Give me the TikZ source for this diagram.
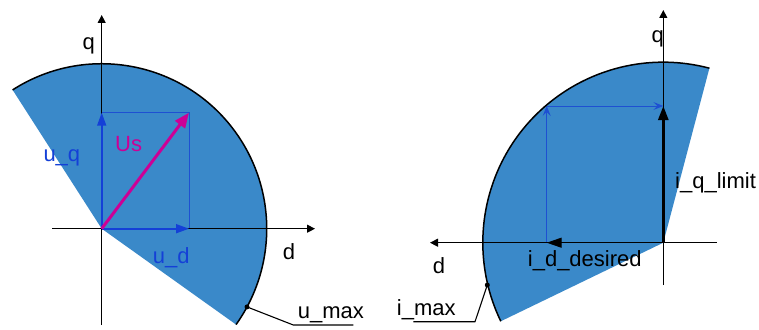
\documentclass[tikz,border=0pt]{standalone}
\usepackage{fontspec}
\setmainfont{Liberation Sans}
\usetikzlibrary{arrows.meta}
\definecolor{sector}{RGB}{58,137,201}
\definecolor{vblue}{RGB}{20,64,215}
\definecolor{rblue}{RGB}{30,80,210}
\definecolor{vmag}{RGB}{204,0,150}
\tikzset{
  lbl/.style={inner sep=0pt, anchor=base west, font=\fontsize{22}{25}\selectfont},
  axis/.style={black, line width=1.2pt, -{Triangle[length=8pt,width=8pt]}},
  rim/.style={black, line width=1.5pt},
  thinblue/.style={rblue, line width=0.6pt},
  comp/.style={vblue, line width=1.6pt, -{Triangle[length=13pt,width=9pt]}},
  leader/.style={black, line width=1.1pt},
  dot/.style={circle, fill=black, inner sep=0pt, minimum size=5pt},
}
\begin{document}
\begin{tikzpicture}[x=1pt,y=-1pt]
\useasboundingbox (0,0) rectangle (759,329);
% ---------- left diagram ----------
\coordinate (O1) at (101.7,228.7);
\coordinate (L1) at (12.6,89.9);
\coordinate (B1) at (236.0,324.5);
\coordinate (Q1) at (101.7,112.7);
\coordinate (D1) at (189,228.7);
\coordinate (U1) at (189,112.7);
\fill[sector] (O1) -- (L1) arc[start angle=-122.7, end angle=35.5, radius=165] -- cycle;
\draw[thinblue] (Q1) -- (U1) -- (D1);
\coordinate (qa1s) at (101.7,325);
\coordinate (qa1e) at (101.7,15);
\coordinate (da1s) at (52,228.7);
\coordinate (da1e) at (315,228.7);
\draw[axis] (qa1s) -- (qa1e);
\draw[axis] (da1s) -- (da1e);
\draw[comp] (O1) -- (Q1);
\draw[comp] (O1) -- (D1);
\draw[vmag, line width=3pt, -{Triangle[length=15pt,width=12pt]}] (O1) -- (U1);
\draw[rim] (L1) arc[start angle=-122.7, end angle=35.5, radius=165];
\node[dot] (m1) at (247,306.9) {};
\coordinate (k1) at (293.3,325);
\coordinate (e1) at (353.3,325);
\draw[leader] (m1.center) -- (k1) -- (e1);
\node[lbl] (tq1) at (82.5,49.5) {q};
\node[lbl, text=vmag] (tus) at (115,151.7) {Us};
\node[lbl, text=vblue] (tuq) at (43.3,161.4) {u\_q};
\node[lbl, text=vblue] (tud) at (152.7,263.3) {u\_d};
\node[lbl] (td1) at (282.7,259.3) {d};
\node[lbl] (tum) at (297.7,318.3) {u\_max};
% ---------- right diagram ----------
\coordinate (O2) at (663.3,242.7);
\coordinate (R2) at (709.4,68.2);
\coordinate (B2) at (500.8,321.3);
\coordinate (C2) at (546.7,106);
\coordinate (Dd) at (546.7,242.7);
\coordinate (Ql) at (663.3,106);
\fill[sector] (O2) -- (R2) arc[start angle=-75.2, end angle=-205.8, radius=180.5] -- cycle;
\draw[thinblue, line width=0.8pt, -{Stealth[length=10pt,width=8pt,inset=4pt]}] (Dd) -- (C2);
\draw[thinblue, line width=0.8pt, -{Stealth[length=10pt,width=8pt,inset=4pt]}] (C2) -- (Ql);
\coordinate (qa2s) at (663.3,285);
\coordinate (qa2e) at (663.3,10);
\coordinate (da2s) at (716.7,242.7);
\coordinate (da2e) at (430,242.7);
\draw[axis] (qa2s) -- (qa2e);
\draw[axis] (da2s) -- (da2e);
\draw[black, line width=2.6pt, -{Triangle[length=14pt,width=10pt]}] (O2) -- (Ql);
\draw[black, line width=1.2pt, -{Triangle[length=15pt,width=10pt]}] (O2) -- (Dd);
\draw[rim] (R2) arc[start angle=-75.2, end angle=-205.8, radius=180.5];
\node[dot] (m2) at (487.3,285) {};
\coordinate (k2) at (475,321.7);
\coordinate (e2) at (413.3,321.7);
\draw[leader] (m2.center) -- (k2) -- (e2);
\node[lbl] (tq2) at (651.5,43) {q};
\node[lbl] (tiq) at (675,188) {i\_q\_limit};
\node[lbl] (tid) at (527.7,266.7) {i\_d\_desired};
\node[lbl] (td2) at (432.7,273.3) {d};
\node[lbl] (tim) at (396.7,315) {i\_max};
\end{tikzpicture}
\end{document}
